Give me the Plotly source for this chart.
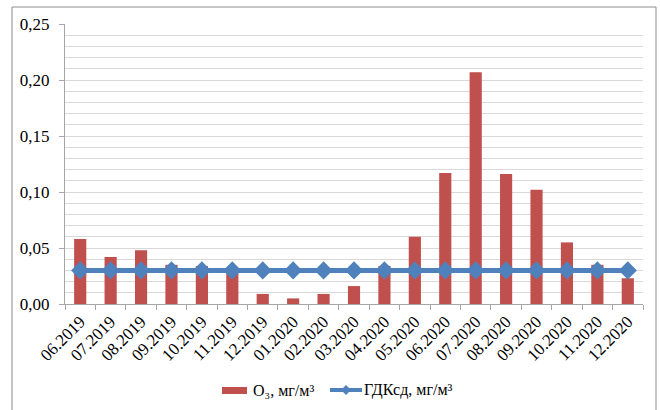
import plotly.graph_objects as go

# Monthly periods
months = ["06.2019", "07.2019", "08.2019", "09.2019", "10.2019", "11.2019",
          "12.2019", "01.2020", "02.2020", "03.2020", "04.2020", "05.2020",
          "06.2020", "07.2020", "08.2020", "09.2020", "10.2020", "11.2020",
          "12.2020"]

# Ozone concentration, mg/m3
ozone = [0.058, 0.042, 0.048, 0.035, 0.034, 0.031, 0.009, 0.005, 0.009,
         0.016, 0.034, 0.060, 0.117, 0.207, 0.116, 0.102, 0.055, 0.035,
         0.023]

# Average daily maximum permissible concentration, mg/m3
gdk = [0.03] * len(months)

y_ticks = [0.0, 0.05, 0.10, 0.15, 0.20, 0.25]
y_labels = ["0,00", "0,05", "0,10", "0,15", "0,20", "0,25"]

name_ozone = "O₃, мг/м³"
name_gdk = "ГДКсд, мг/м³"

W, H = 660, 410
L, R, T, B = 65, 17, 24, 106

FONT = "Liberation Serif"
RED = "#C0504D"
BLUE = "#4F81BD"

fig = go.Figure()
fig.add_trace(go.Bar(
    x=months, y=ozone, name=name_ozone,
    marker=dict(color=RED, line=dict(width=0)),
))
fig.add_trace(go.Scatter(
    x=months, y=gdk, name=name_gdk, mode="lines+markers",
    line=dict(color=BLUE, width=5),
    marker=dict(symbol="diamond", size=14, color=BLUE),
))

pw = W - L - R
ph = H - T - B


def px(x):
    return (x - L) / pw


def py(y):
    return (T + ph - y) / ph


# Outer chart frame
fig.add_shape(
    type="rect", xref="paper", yref="paper",
    x0=px(12), x1=px(656), y0=py(420), y1=py(7),
    line=dict(color="#8c8c8c", width=1), fillcolor="rgba(0,0,0,0)",
    layer="below",
)

# Legend drawn below the axis
ly = 390
fig.add_shape(type="rect", xref="paper", yref="paper",
              x0=px(222), x1=px(247), y0=py(394), y1=py(387),
              line=dict(width=0), fillcolor=RED)
fig.add_annotation(xref="paper", yref="paper", x=px(251), y=py(ly),
                   text=name_ozone, showarrow=False, xanchor="left",
                   yanchor="middle", font=dict(family=FONT, size=16))
fig.add_shape(type="line", xref="paper", yref="paper",
              x0=px(330), x1=px(362), y0=py(ly), y1=py(ly),
              line=dict(color=BLUE, width=4))
fig.add_shape(type="path", xref="paper", yref="paper",
              path=(f"M {px(341)},{py(ly)} L {px(346)},{py(ly - 5)} "
                    f"L {px(351)},{py(ly)} L {px(346)},{py(ly + 5)} Z"),
              line=dict(width=0), fillcolor=BLUE)
fig.add_annotation(xref="paper", yref="paper", x=px(362), y=py(ly),
                   text=name_gdk, showarrow=False, xanchor="left",
                   yanchor="middle", font=dict(family=FONT, size=16))

fig.update_layout(
    width=W, height=H,
    margin=dict(l=L, r=R, t=T, b=B, autoexpand=False),
    paper_bgcolor="white", plot_bgcolor="white",
    font=dict(family=FONT, size=17, color="#000000"),
    bargap=0.6,
    showlegend=False,
    xaxis=dict(
        type="category", range=[-0.5, len(months) - 0.5],
        tickangle=-45, tickson="boundaries",
        ticks="outside", ticklen=5, tickcolor="#a6a6a6",
        showline=True, linecolor="#a6a6a6", linewidth=1,
        showgrid=False, automargin=False,
        tickfont=dict(family=FONT, size=17),
    ),
    yaxis=dict(
        range=[0, 0.25], tickvals=y_ticks, ticktext=y_labels,
        ticks="outside", ticklen=5, tickcolor="#a6a6a6",
        showline=True, linecolor="#a6a6a6", linewidth=1,
        showgrid=True, gridcolor="#d9d9d9", gridwidth=1,
        minor=dict(dtick=0.01, showgrid=True, gridcolor="#d9d9d9",
                   gridwidth=1, ticks=""),
        zeroline=False, automargin=False, ticklabelstandoff=6,
        tickfont=dict(family=FONT, size=17),
    ),
)

fig.write_html("out.html")
